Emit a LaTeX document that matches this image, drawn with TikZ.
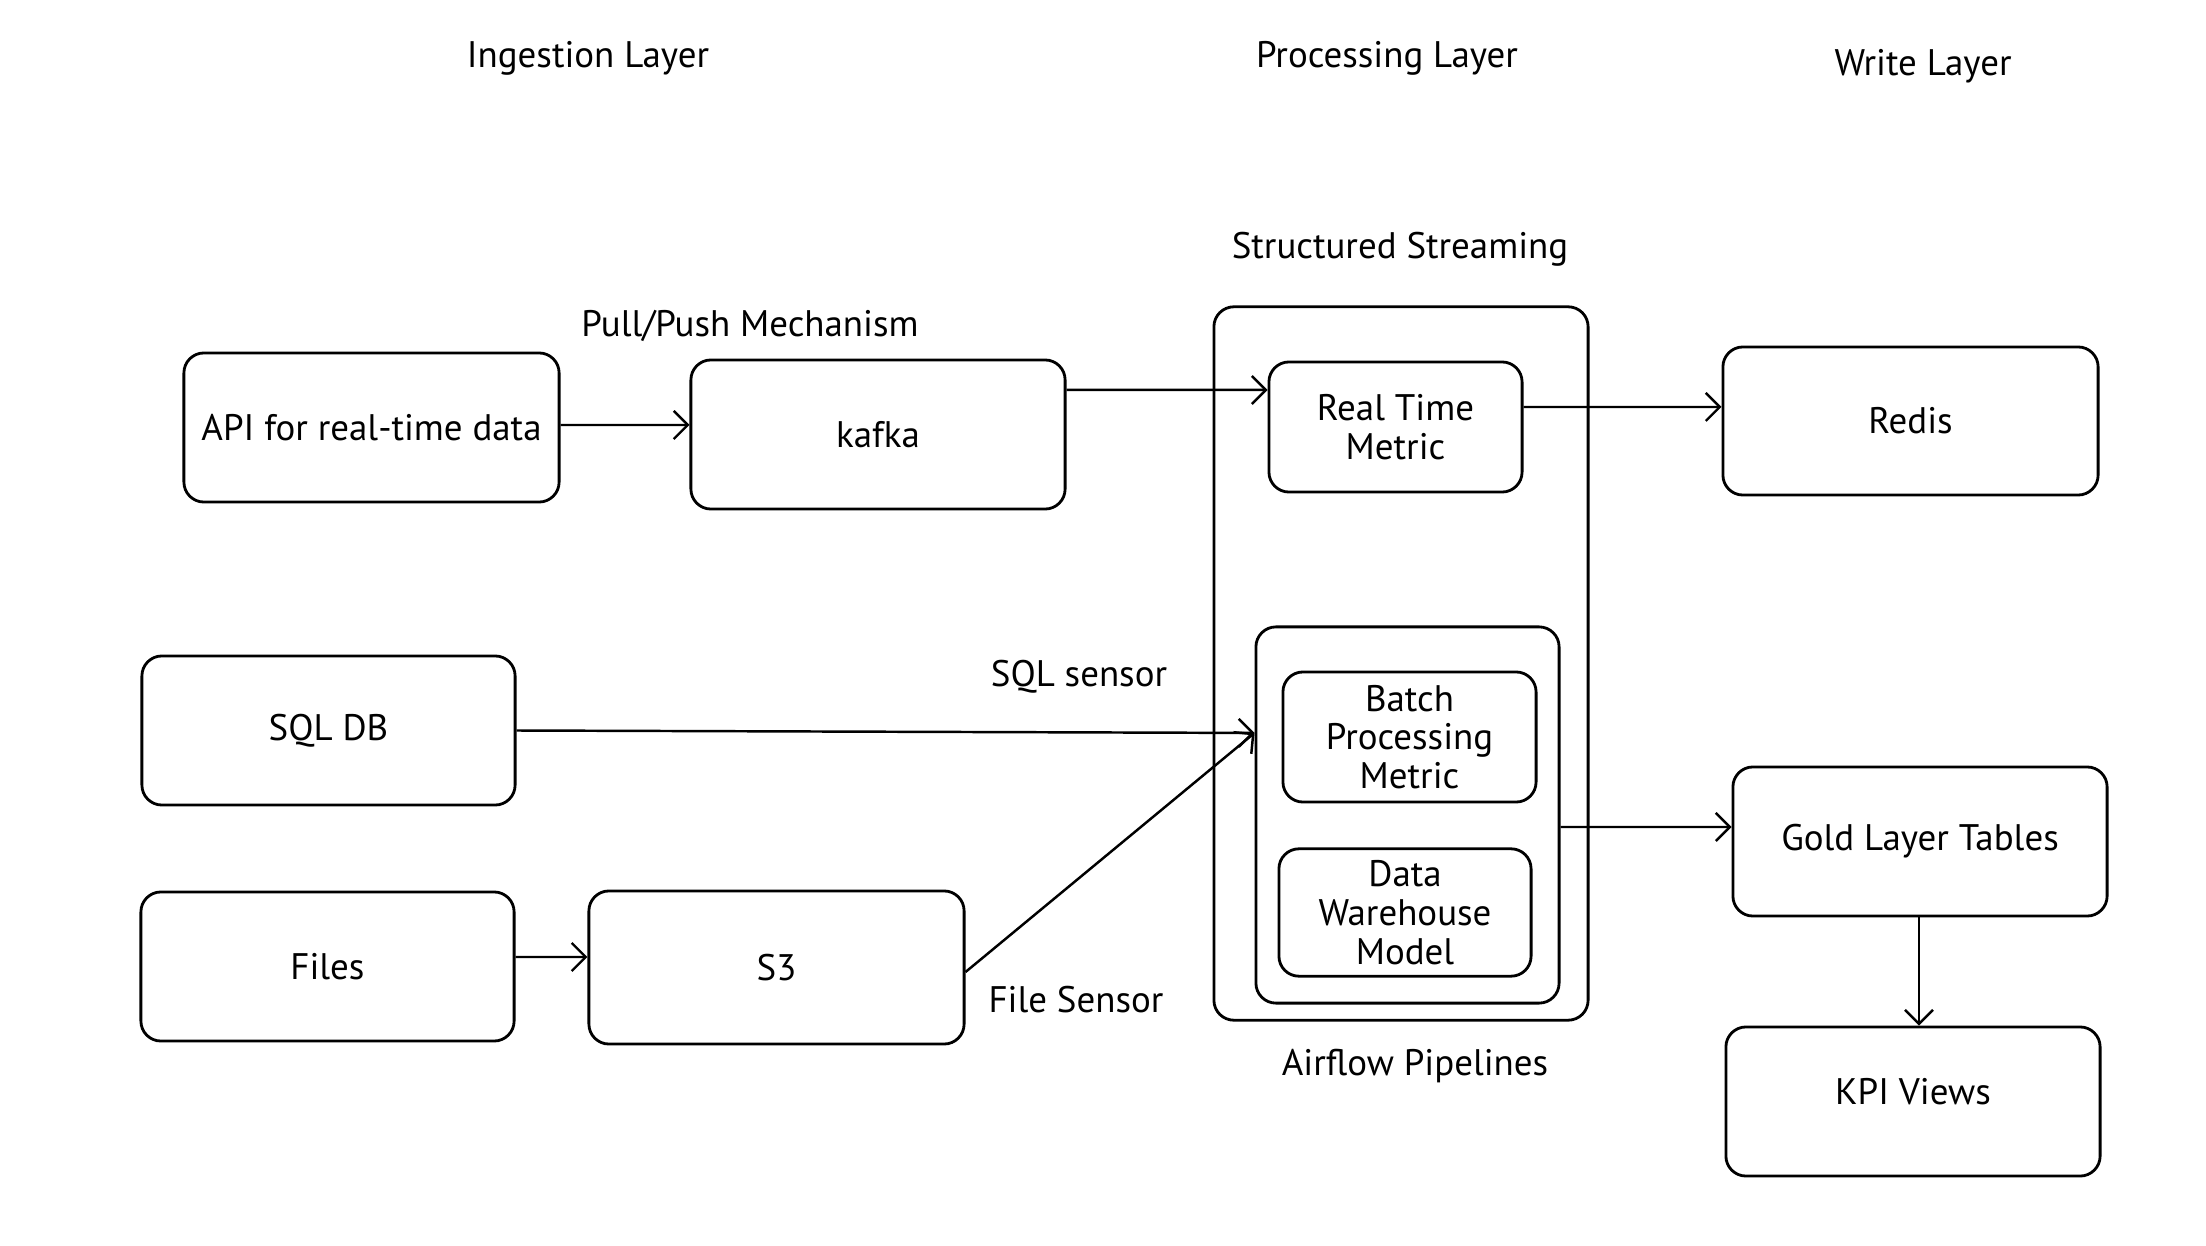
\documentclass[tikz,border=0pt]{standalone}
\usepackage{fontspec}
\setmainfont{PT Sans}
\usetikzlibrary{arrows.meta}
\begin{document}
\begin{tikzpicture}[x=0.01cm, y=-0.01cm,
  blk/.style={draw, rounded corners=2mm, line width=0.8pt, align=center, font=\fontsize{10.5}{11}\selectfont},
  note/.style={font=\fontsize{10.5}{11}\selectfont},
  >={Straight Barb[length=1.4mm, width=2.8mm]},
  conn/.style={->, line width=0.7pt}]
\fill[white] (0,0) rectangle (2206,1246);
\useasboundingbox (0,0) rectangle (2206,1246);
\node[note] (ingest) at (588,58){Ingestion Layer};
\node[note] (proc) at (1387,58){Processing Layer};
\node[note] (write) at (1923,66){Write Layer};
\node[note] (strm) at (1400,249){Structured Streaming};
\node[note] (pull) at (750,326){Pull/Push Mechanism};
\node[note] (sqls) at (1079,677){SQL sensor};
\node[note] (files) at (1076,1000){File Sensor};
\node[note] (airf) at (1415,1066){Airflow Pipelines};
\node[blk, minimum width=3.75cm, minimum height=1.49cm] (api) at (371.5,427.5){API for real-time data};
\node[blk, minimum width=3.74cm, minimum height=1.49cm] (kafka) at (878,434.5){kafka};
\node[blk, minimum width=3.73cm, minimum height=1.49cm] (sqldb) at (328.5,730.5){SQL DB};
\node[blk, minimum width=3.73cm, minimum height=1.49cm] (fil) at (327.5,966.5){Files};
\node[blk, minimum width=3.75cm, minimum height=1.53cm] (s3) at (776.5,967.5){S3};
\node[blk, minimum width=3.74cm, minimum height=7.13cm] (outer) at (1401,663.5){};
\node[blk, minimum width=2.53cm, minimum height=1.30cm] (rt) at (1395.5,427){Real Time\\Metric};
\node[blk, minimum width=3.03cm, minimum height=3.76cm] (inner) at (1407.5,815){};
\node[blk, minimum width=2.53cm, minimum height=1.30cm] (batch) at (1409.5,737){Batch\\Processing\\Metric};
\node[blk, minimum width=2.52cm, minimum height=1.25cm] (dw) at (1405,912.5){Data\\Warehouse\\Model};
\node[blk, minimum width=3.75cm, minimum height=1.48cm] (redis) at (1910.5,421){Redis};
\node[blk, minimum width=3.74cm, minimum height=1.49cm] (gold) at (1920,841.5){Gold Layer Tables};
\node[blk, minimum width=3.74cm, minimum height=1.49cm, text depth=2mm] (kpi) at (1913,1101.5){KPI Views};
\draw[conn] ([yshift=0.25mm]api.east) -- ([yshift=0.95mm]kafka.west);
\draw[conn] ([yshift=4.45mm]kafka.east) -- ([yshift=3.7mm]rt.west);
\draw[conn] ([yshift=2mm]rt.east) -- ([yshift=1.4mm]redis.west);
\draw[conn] (sqldb.east) -- ([yshift=8.2mm]inner.west);
\draw[conn] ([yshift=-0.45mm]s3.east) -- ([yshift=8.2mm]inner.west);
\draw[conn] ([yshift=0.95mm]fil.east) -- ([yshift=1.05mm]s3.west);
\draw[conn] ([yshift=-1.2mm]inner.east) -- ([yshift=1.45mm]gold.west);
\draw[conn] (gold.south -| 1919,0) -- (kpi.north -| 1919,0);
\end{tikzpicture}
\end{document}
